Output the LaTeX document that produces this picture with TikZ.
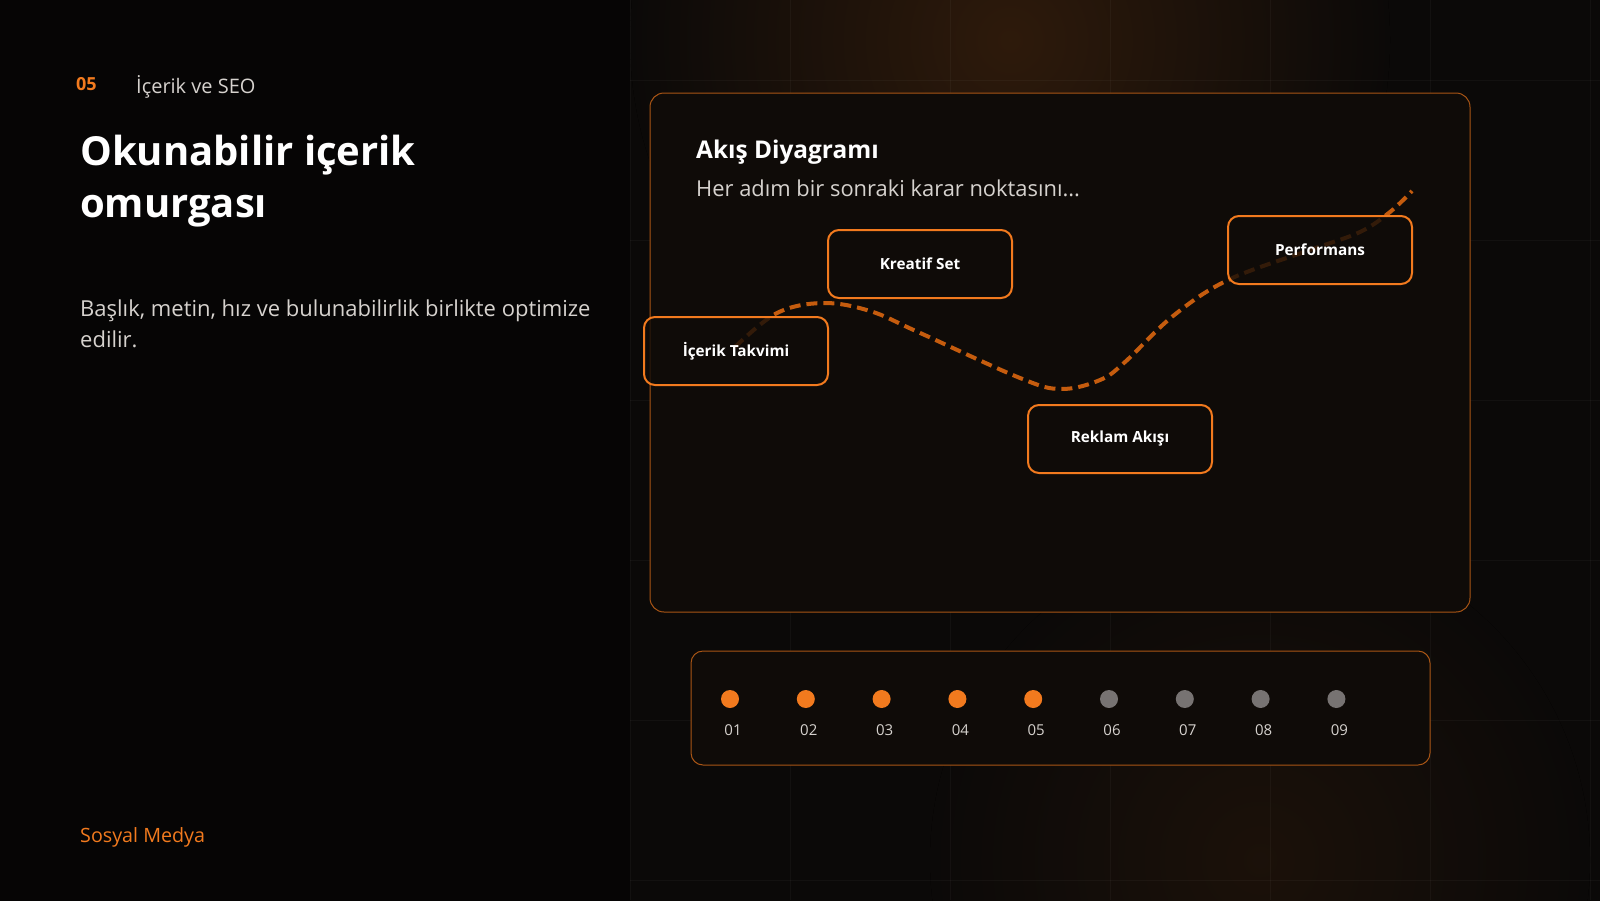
\documentclass[tikz,border=0pt]{standalone}
\usepackage{fontspec}
\setmainfont{Open Sans}
\usetikzlibrary{positioning, calc}
\definecolor{bg}{HTML}{060505}
\definecolor{bgright}{HTML}{0B0908}
\definecolor{panel}{HTML}{0F0B08}
\definecolor{brand}{HTML}{F27A1E}
\definecolor{curve}{HTML}{D9650F}
\definecolor{soft}{HTML}{D6D2CE}
\definecolor{idle}{HTML}{777372}

\begin{document}
\begin{tikzpicture}[x=1pt, y=-1pt,
    stepbox/.style={draw=brand, line width=2pt, rounded corners=11pt, fill=panel, fill opacity=0.8, text opacity=1, minimum width=184pt, minimum height=68pt, font=\fontsize{15.3}{18}\selectfont\bfseries, text=white},
    frame/.style={draw=brand!70!black, line width=1pt, rounded corners=14pt, fill=panel},
    dot/.style={circle, inner sep=0pt, minimum size=18pt},
    num/.style={font=\fontsize{15}{18}\selectfont, text=soft},
    gridline/.style={draw=white, opacity=0.035, line width=0.8pt}
  ]
    \useasboundingbox (0,0) rectangle (1600,900);
    \fill[bg] (-4,-4) rectangle (1604,904);
    \begin{scope}
      \clip (630,-4) rectangle (1604,904);
      \fill[bgright] (630,-4) rectangle (1604,904);
      \fill[inner color=brand!15!bgright, outer color=bgright] (1010,40) circle (380);
      \fill[inner color=brand!7!bgright, outer color=bgright] (1260,860) circle (330);
    \end{scope}
    \foreach \x in {630,790,...,1590} {
      \draw[gridline] (\x,0) -- (\x,900);
    }
    \foreach \y in {80,240,...,900} {
      \draw[gridline] (630,\y) -- (1600,\y);
    }

    \node[anchor=base west, font=\fontsize{18}{22}\selectfont\bfseries, text=brand, inner sep=0pt] (chapter) at (76,90) {05};
    \node[anchor=base west, font=\fontsize{20}{24}\selectfont, text=soft, inner sep=0pt] (section) at (136,93) {İçerik ve SEO};
    \node[anchor=base west, align=left, font=\fontsize{40}{52}\selectfont\bfseries, text=white, inner sep=0pt] (title) at (80,217) {Okunabilir içerik\\omurgası};
    \node[anchor=base west, align=left, font=\fontsize{22}{31}\selectfont, text=soft, inner sep=0pt] (lead) at (80,347) {Başlık, metin, hız ve bulunabilirlik birlikte optimize\\edilir.};
    \node[anchor=base west, font=\fontsize{19.7}{24}\selectfont, text=brand, inner sep=0pt] (brandname) at (80,842) {Sosyal Medya};

    \draw[frame] (650,93) rectangle (1470,612);
    \node[anchor=base west, font=\fontsize{24.4}{29}\selectfont\bfseries, text=white, inner sep=0pt] (flowtitle) at (696,158) {Akış Diyagramı};
    \node[anchor=base west, font=\fontsize{21.9}{26}\selectfont, text=soft, inner sep=0pt] (flowsub) at (696,196) {Her adım bir sonraki karar noktasını...};

    \draw[curve, line width=4pt, dash pattern=on 11pt off 6pt, opacity=0.9]
      plot[smooth, tension=0.6] coordinates {(735,347) (777,313) (823,303) (870,311) (918,332) (1020,378) (1061,389) (1100,380) (1125,362) (1173,316) (1228,280) (1310,250) (1360,232) (1390,212) (1412,191)};

    \node[stepbox] (takvim) at (736,351) {İçerik Takvimi};
    \node[stepbox] (kreatif) at (920,264) {Kreatif Set};
    \node[stepbox] (reklam) at (1120,439) {Reklam Akışı};
    \node[stepbox] (perf) at (1320,250) {Performans};

    \draw[frame, rounded corners=12pt] (691,651) rectangle (1430,765);
    \foreach \i in {1,...,9} {
      \ifnum\i<6 \def\dotcol{brand}\else\def\dotcol{idle}\fi
      \node[dot, fill=\dotcol] (d\i) at ({730+(\i-1)*75.8},699) {};
      \node[num, below=13pt of d\i, xshift=3pt] (n\i) {0\i};
    }
  \end{tikzpicture}
\end{document}
